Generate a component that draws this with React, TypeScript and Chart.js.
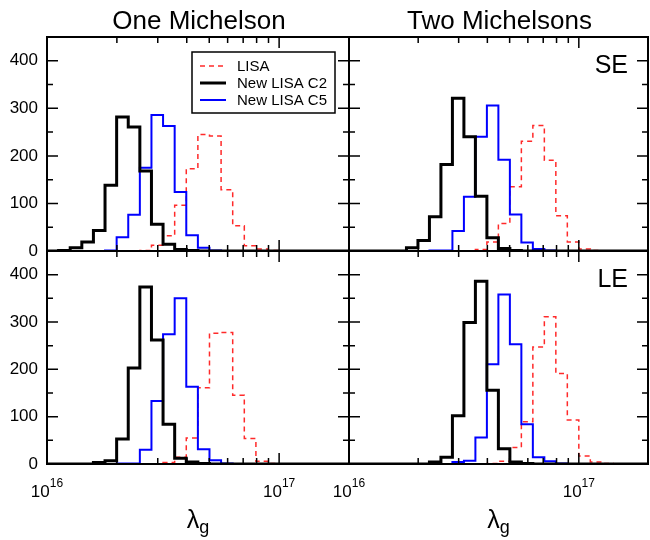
import React, { useEffect, useRef } from "react";
import { Chart, registerables } from "chart.js";

Chart.register(...registerables);

// ---------- data ----------
// histogram bin edges, as log10(lambda_g)
const binEdgesLog = [
  16.0, 16.05, 16.1, 16.15, 16.2, 16.25, 16.3, 16.35, 16.4, 16.45, 16.5, 16.55, 16.6, 16.65,
  16.7, 16.75, 16.8, 16.85, 16.9, 16.95, 17.0, 17.05, 17.1, 17.15, 17.2, 17.25, 17.3,
];

// One Michelson, SE
const lisaOneSE = [0, 0, 0, 0, 0, 0, 0, 0, 1, 12, 32, 96, 173, 245, 242, 129, 53, 11, 4, 1, 0, 0, 0, 0, 0, 0];
const c2OneSE = [0, 1, 7, 19, 43, 138, 282, 261, 168, 56, 14, 3, 1, 0, 0, 0, 0, 0, 0, 0, 0, 0, 0, 0, 0, 0];
const c5OneSE = [0, 0, 0, 0, 0, 1, 29, 76, 175, 286, 263, 124, 33, 7, 1, 0, 0, 0, 0, 0, 0, 0, 0, 0, 0, 0];

// Two Michelsons, SE
const lisaTwoSE = [0, 0, 0, 0, 0, 0, 0, 0, 0, 0, 0, 3, 19, 58, 135, 231, 264, 191, 74, 19, 4, 1, 0, 0, 0, 0];
const c2TwoSE = [0, 0, 0, 0, 0, 7, 22, 72, 182, 321, 240, 115, 28, 5, 1, 0, 0, 0, 0, 0, 0, 0, 0, 0, 0, 0];
const c5TwoSE = [0, 0, 0, 0, 0, 0, 0, 1, 1, 42, 114, 240, 306, 192, 77, 18, 4, 1, 0, 0, 0, 0, 0, 0, 0, 0];

// One Michelson, LE
const lisaOneLE = [0, 0, 0, 0, 0, 0, 0, 0, 0, 0, 3, 14, 55, 161, 276, 278, 145, 54, 6, 1, 0, 0, 0, 0, 0, 0];
const c2OneLE = [0, 0, 0, 0, 3, 7, 53, 203, 374, 262, 84, 12, 4, 1, 0, 0, 0, 0, 0, 0, 0, 0, 0, 0, 0, 0];
const c5OneLE = [0, 0, 0, 0, 0, 0, 1, 1, 30, 133, 274, 350, 163, 31, 8, 1, 0, 0, 0, 0, 0, 0, 0, 0, 0, 0];

// Two Michelsons, LE
const lisaTwoLE = [0, 0, 0, 0, 0, 0, 0, 0, 0, 0, 0, 0, 1, 6, 35, 89, 247, 311, 191, 93, 17, 4, 1, 0, 0, 0];
const c2TwoLE = [0, 0, 0, 0, 0, 0, 0, 4, 14, 102, 299, 386, 156, 32, 4, 1, 0, 0, 0, 0, 0, 0, 0, 0, 0, 0];
const c5TwoLE = [0, 0, 0, 0, 0, 0, 0, 0, 0, 4, 7, 56, 211, 358, 253, 84, 14, 6, 1, 0, 0, 0, 0, 0, 0, 0];

const xMajorTicks = [1e16, 1e17];
const xMajorLabels = [["10", "16"], ["10", "17"]];
const xMinorTicks = [2e16, 3e16, 4e16, 5e16, 6e16, 7e16, 8e16, 9e16, 2e17];
const yMajorTicks = [0, 100, 200, 300, 400];
const yMinorTicks = [50, 150, 250, 350, 450];
const columnTitles = ["One Michelson", "Two Michelsons"];
const rowTags = ["SE", "LE"];
const seriesNames = ["LISA", "New LISA C2", "New LISA C5"];

// ---------- layout / style ----------
const W = 650;
const H = 540;
const FONT = "'Liberation Sans', Arial, Helvetica, sans-serif";
const colX = [47, 349, 648];
const rowY = [37, 251, 464];

const seriesStyle = [
  { color: "#ff2a2a", width: 1.5, dash: [5, 4], order: 3 },
  { color: "#000000", width: 3, dash: [] as number[], order: 1 },
  { color: "#0000ff", width: 2, dash: [] as number[], order: 2 },
];

const panels = [
  { row: 0, col: 0, series: [lisaOneSE, c2OneSE, c5OneSE] },
  { row: 0, col: 1, series: [lisaTwoSE, c2TwoSE, c5TwoSE] },
  { row: 1, col: 0, series: [lisaOneLE, c2OneLE, c5OneLE] },
  { row: 1, col: 1, series: [lisaTwoLE, c2TwoLE, c5TwoLE] },
];

function toSteps(counts: number[]) {
  return binEdgesLog.map((e, i) => ({
    x: Math.pow(10, e),
    y: i < counts.length ? counts[i] : counts[counts.length - 1],
  }));
}

function makePlugin(p: { row: number; col: number }) {
  return {
    id: "panelDecor" + p.row + p.col,
    afterDatasetsDraw(chart: any) {
      const { ctx, chartArea: a } = chart;
      const xs = chart.scales.x;
      const ys = chart.scales.y;
      ctx.save();
      ctx.strokeStyle = "#000";
      ctx.fillStyle = "#000";
      // ticks, pointing inward on all four sides
      ctx.lineWidth = 1.5;
      ctx.beginPath();
      const yt = (v: number, len: number) => {
        const py = ys.getPixelForValue(v);
        ctx.moveTo(a.left, py);
        ctx.lineTo(a.left + len, py);
        ctx.moveTo(a.right, py);
        ctx.lineTo(a.right - len, py);
      };
      const xt = (v: number, len: number) => {
        const px = xs.getPixelForValue(v);
        ctx.moveTo(px, a.bottom);
        ctx.lineTo(px, a.bottom - len);
        ctx.moveTo(px, a.top);
        ctx.lineTo(px, a.top + len);
      };
      yMajorTicks.forEach((v) => yt(v, 11));
      yMinorTicks.forEach((v) => yt(v, 6));
      xMajorTicks.forEach((v) => xt(v, 11));
      xMinorTicks.forEach((v) => xt(v, 6));
      ctx.stroke();
      // frame
      ctx.lineWidth = 2;
      ctx.strokeRect(a.left, a.top, a.right - a.left, a.bottom - a.top);

      const mid = (a.left + a.right) / 2;
      // y tick labels
      if (p.col === 0) {
        ctx.font = "17px " + FONT;
        ctx.textAlign = "right";
        ctx.textBaseline = "middle";
        yMajorTicks.forEach((v) => ctx.fillText(String(v), a.left - 9, ys.getPixelForValue(v)));
      }
      // column title
      if (p.row === 0) {
        ctx.font = "26px " + FONT;
        ctx.textAlign = "center";
        ctx.textBaseline = "alphabetic";
        ctx.fillText(columnTitles[p.col], mid + 1, 29);
      }
      // row tag
      if (p.col === 1) {
        ctx.font = "25px " + FONT;
        ctx.textAlign = "right";
        ctx.textBaseline = "alphabetic";
        ctx.fillText(rowTags[p.row], a.right - 20, a.top + 36);
      }
      // x tick labels and axis title
      if (p.row === 1) {
        ctx.textAlign = "left";
        ctx.textBaseline = "alphabetic";
        xMajorTicks.forEach((v, i) => {
          const px = xs.getPixelForValue(v);
          const [base, sup] = xMajorLabels[i];
          ctx.font = "17px " + FONT;
          const wb = ctx.measureText(base).width;
          ctx.font = "12px " + FONT;
          const ws = ctx.measureText(sup).width;
          const x0 = px - (wb + ws) / 2;
          ctx.font = "17px " + FONT;
          ctx.fillText(base, x0, 497);
          ctx.font = "12px " + FONT;
          ctx.fillText(sup, x0 + wb, 487);
        });
        ctx.font = "25px " + FONT;
        const wl = ctx.measureText("λ").width;
        ctx.font = "18px " + FONT;
        const wg = ctx.measureText("g").width;
        const x0 = mid - (wl + wg) / 2;
        ctx.font = "25px " + FONT;
        ctx.fillText("λ", x0, 528);
        ctx.font = "18px " + FONT;
        ctx.fillText("g", x0 + wl, 533);
      }
      // legend
      if (p.row === 0 && p.col === 0) {
        const bx = a.left + 145;
        const by = a.top + 15;
        const bw = 143;
        const bh = 61;
        ctx.fillStyle = "#fff";
        ctx.fillRect(bx, by, bw, bh);
        ctx.lineWidth = 1.5;
        ctx.strokeStyle = "#000";
        ctx.strokeRect(bx, by, bw, bh);
        ctx.font = "15px " + FONT;
        ctx.textAlign = "left";
        ctx.textBaseline = "middle";
        seriesNames.forEach((name, i) => {
          const cy = by + 14 + i * 17;
          const st = seriesStyle[i];
          ctx.beginPath();
          ctx.strokeStyle = st.color;
          ctx.lineWidth = st.width;
          ctx.setLineDash(st.dash);
          ctx.moveTo(bx + 8, cy);
          ctx.lineTo(bx + 34, cy);
          ctx.stroke();
          ctx.setLineDash([]);
          ctx.fillStyle = "#000";
          ctx.fillText(name, bx + 45, cy + 1);
        });
      }
      ctx.restore();
    },
  };
}

export default function App() {
  const refs = useRef<(HTMLCanvasElement | null)[]>([]);

  useEffect(() => {
    const charts = panels.map((p, idx) => {
      const canvas = refs.current[idx]!;
      const left = colX[p.col];
      const right = colX[p.col + 1];
      const top = rowY[p.row];
      const bottom = rowY[p.row + 1];
      return new Chart(canvas, {
        type: "line",
        data: {
          datasets: p.series.map((counts, i) => ({
            label: seriesNames[i],
            data: toSteps(counts),
            stepped: true,
            borderColor: seriesStyle[i].color,
            borderWidth: seriesStyle[i].width,
            borderDash: seriesStyle[i].dash,
            borderCapStyle: "butt",
            borderJoinStyle: "miter",
            fill: false,
            pointRadius: 0,
            order: seriesStyle[i].order,
          })),
        },
        options: {
          responsive: false,
          animation: false,
          devicePixelRatio: 1,
          layout: { padding: { left, top, right: W - right, bottom: H - bottom } },
          scales: {
            x: { type: "logarithmic", min: 1e16, max: 2e17, display: false },
            y: { type: "linear", min: 0, max: 450, display: false },
          },
          plugins: { legend: { display: false }, tooltip: { enabled: false } },
        },
        plugins: [makePlugin(p)],
      } as any);
    });
    return () => charts.forEach((c) => c.destroy());
  }, []);

  return (
    <div style={{ position: "fixed", left: 0, top: 0, width: W, height: H, background: "#fff" }}>
      {panels.map((_, i) => (
        <canvas
          key={i}
          ref={(el) => {
            refs.current[i] = el;
          }}
          width={W}
          height={H}
          style={{ position: "absolute", left: 0, top: 0 }}
        />
      ))}
    </div>
  );
}
